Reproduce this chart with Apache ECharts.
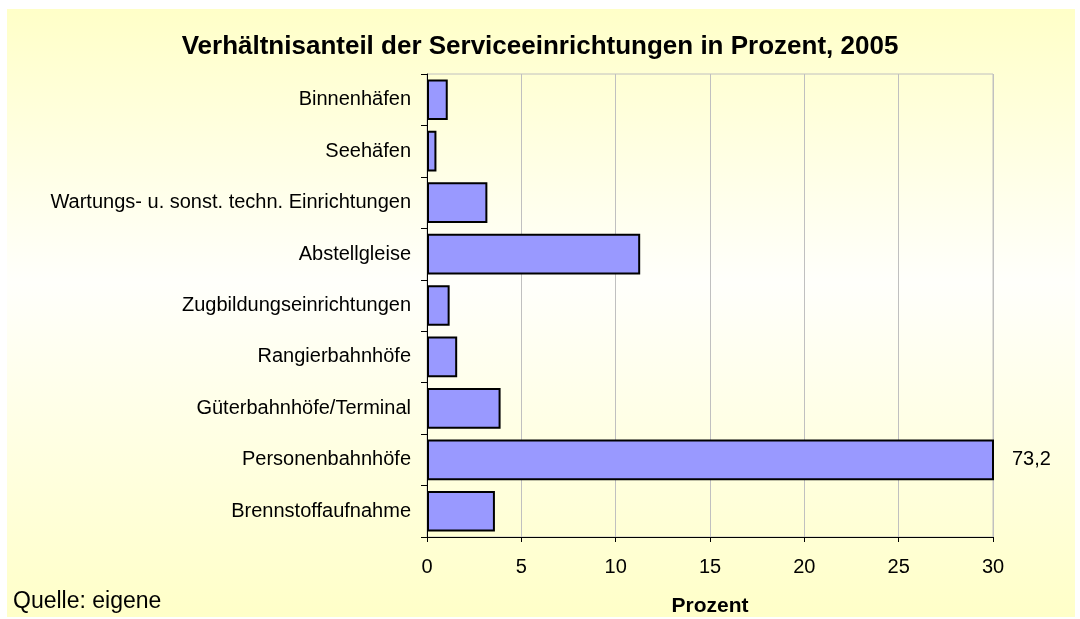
<!DOCTYPE html>
<html>
<head>
<meta charset="utf-8">
<title>Serviceeinrichtungen 2005</title>
<script src="https://cdn.jsdelivr.net/npm/echarts@6/dist/echarts.min.js"></script>
<style>
  html, body { margin: 0; padding: 0; background: #fff; }
  #chart { width: 1080px; height: 619px; }
</style>
</head>
<body>
<div id="chart"></div>
<script>
// Kategorien von oben nach unten
const categories = [
  'Binnenhäfen',
  'Seehäfen',
  'Wartungs- u. sonst. techn. Einrichtungen',
  'Abstellgleise',
  'Zugbildungseinrichtungen',
  'Rangierbahnhöfe',
  'Güterbahnhöfe/Terminal',
  'Personenbahnhöfe',
  'Brennstoffaufnahme'
]
const values = [1.1, 0.5, 3.2, 11.3, 1.2, 1.6, 3.9, 73.2, 3.6]
const xMin = 0
const xMax = 30
const xStep = 5

const font = '"Liberation Sans", Arial, sans-serif'

const chart = echarts.init(document.getElementById('chart'))

// Werte ueber dem Achsenende bekommen ein Label rechts neben dem Balken
const barData = values.map(v => ({
  value: v,
  label: {
    show: v > xMax,
    position: 'right',
    distance: 18,
    color: '#000',
    fontFamily: font,
    fontSize: 20,
    formatter: p => String(p.value).replace('.', ',')
  }
}))

chart.setOption({
  animation: false,
  graphic: [{
    type: 'rect',
    z: -10,
    shape: { x: 7, y: 9, width: 1068, height: 608 },
    style: {
      fill: new echarts.graphic.LinearGradient(0, 0, 0, 1, [
        { offset: 0, color: '#ffffc8' },
        { offset: 0.45, color: '#fffffb' },
        { offset: 1, color: '#ffffc8' }
      ])
    }
  }, {
    type: 'text',
    left: 13,
    top: 590,
    style: {
      text: 'Quelle: eigene',
      fill: '#000',
      font: '23px ' + font
    }
  }],
  title: {
    text: 'Verhältnisanteil der Serviceeinrichtungen in Prozent, 2005',
    left: 'center',
    top: 29,
    textStyle: {
      fontFamily: font,
      fontSize: 26,
      fontWeight: 'bold',
      color: '#000'
    }
  },
  grid: {
    left: 427,
    right: 87,
    top: 74,
    bottom: 82,
    outerBoundsMode: 'none',
    containLabel: false,
    show: true,
    borderColor: '#c0c0c0',
    borderWidth: 1,
    backgroundColor: 'transparent'
  },
  xAxis: {
    type: 'value',
    min: xMin,
    max: xMax,
    interval: xStep,
    name: 'Prozent',
    nameLocation: 'middle',
    nameGap: 59,
    nameTextStyle: {
      fontFamily: font,
      fontSize: 21,
      fontWeight: 'bold',
      color: '#000'
    },
    axisLine: { show: true, lineStyle: { color: '#000', width: 1 } },
    axisTick: { show: true, length: 5, lineStyle: { color: '#000' } },
    axisLabel: {
      fontFamily: font,
      fontSize: 20,
      color: '#000',
      margin: 20
    },
    splitLine: { show: true, lineStyle: { color: '#c0c0c0', width: 1 } }
  },
  yAxis: {
    type: 'category',
    data: categories,
    inverse: true,
    axisLine: { show: true, lineStyle: { color: '#000', width: 1 } },
    axisTick: { show: true, length: 6, lineStyle: { color: '#000' } },
    axisLabel: {
      fontFamily: font,
      fontSize: 20,
      color: '#000',
      margin: 16
    },
    splitLine: { show: false }
  },
  series: [{
    type: 'bar',
    data: barData,
    barWidth: '79%',
    clip: true,
    itemStyle: {
      color: '#9999ff',
      borderColor: '#000',
      borderWidth: 2
    }
  }]
})
</script>
</body>
</html>
